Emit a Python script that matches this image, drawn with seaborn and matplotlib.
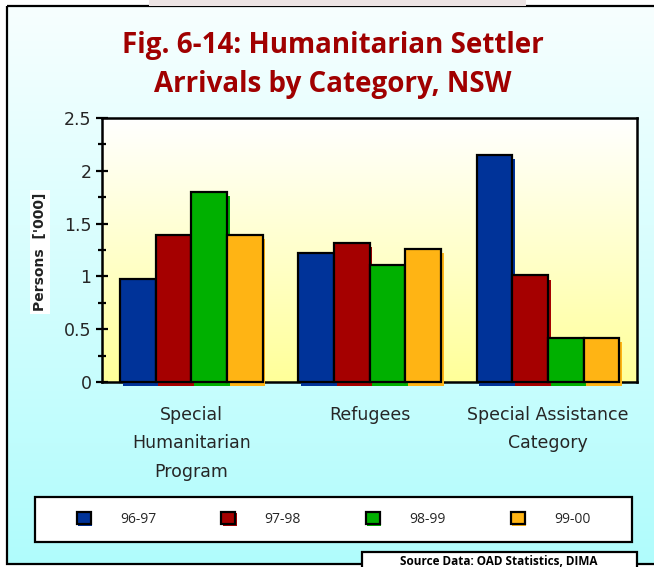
import numpy as np
import pandas as pd
import matplotlib
matplotlib.use("Agg")
import matplotlib.pyplot as plt
import matplotlib.patheffects as pe
from matplotlib.patches import Rectangle
from matplotlib.ticker import MultipleLocator
import seaborn as sns

# data
categories = ["Special\nHumanitarian\nProgram", "Refugees", "Special Assistance\nCategory"]
years = ["96-97", "97-98", "98-99", "99-00"]
v_9697 = [0.98, 1.22, 2.15]
v_9798 = [1.39, 1.32, 1.01]
v_9899 = [1.80, 1.11, 0.42]
v_9900 = [1.39, 1.26, 0.42]
colors = ["#003399", "#a50000", "#00b000", "#ffb414"]

df = pd.DataFrame({
    "category": categories * 4,
    "year": np.repeat(years, 3),
    "value": v_9697 + v_9798 + v_9899 + v_9900,
})

sns.set_theme(style="white")
plt.rcParams["font.family"] = ["DejaVu Sans"]

W, H = 654, 567
fig = plt.figure(figsize=(W / 100, H / 100), dpi=100)

# background layer in pixel coordinates
bg = fig.add_axes([0, 0, 1, 1], zorder=-5)
bg.set_xlim(0, W)
bg.set_ylim(H, 0)
bg.axis("off")
grad = np.linspace(0, 1, 256).reshape(-1, 1)
top_c = np.array([0.97, 1.0, 1.0])
bot_c = np.array([0.69, 0.99, 0.99])
img = top_c + grad[..., None] * (bot_c - top_c)
bg.imshow(img, extent=[7, W + 5, 564, 6], aspect="auto", zorder=0)
bg.add_patch(Rectangle((7, 6), W, 558, fill=False, edgecolor="black", linewidth=1.6, zorder=2))
bg.add_patch(Rectangle((149, -2), 377, 8, facecolor="#ede4e4", edgecolor="none", zorder=3))
# legend box
bg.add_patch(Rectangle((35, 497), 597, 45, facecolor="white", edgecolor="black", linewidth=1.6, zorder=2))
# source box
bg.add_patch(Rectangle((362, 552), 275, 30, facecolor="white", edgecolor="black", linewidth=1.6, zorder=2))
bg.text(499, 555, "Source Data: OAD Statistics, DIMA", ha="center", va="top",
        fontsize=8.5, fontweight="bold", color="black", zorder=4,
        family=["Open Sans", "DejaVu Sans"])

# title
fig.text(333 / W, 1 - 45 / H, "Fig. 6-14: Humanitarian Settler", ha="center", va="center",
         fontsize=20, fontweight="bold", color="#a00000", family=["Open Sans", "DejaVu Sans"])
fig.text(333 / W, 1 - 85 / H, "Arrivals by Category, NSW", ha="center", va="center",
         fontsize=20, fontweight="bold", color="#a00000", family=["Open Sans", "DejaVu Sans"])

# main plot
ax = fig.add_axes([102 / W, 1 - 382 / H, 535 / W, 264 / H])
ax.patch.set_alpha(0)
ygrad = np.linspace(0, 1, 256).reshape(-1, 1)
c_top = np.array([1.0, 1.0, 1.0])
c_bot = np.array([1.0, 1.0, 0.60])
pimg = c_top + ygrad[..., None] * (c_bot - c_top)
ax.imshow(pimg, extent=[-0.5, 2.5, 0, 2.5], aspect="auto", zorder=0)

sns.barplot(data=df, x="category", y="value", hue="year", palette=colors,
            saturation=1, width=0.8, edgecolor="black", linewidth=1.6,
            errorbar=None, ax=ax, zorder=3)

for bar in ax.patches:
    if isinstance(bar, Rectangle) and bar.get_height() > 0:
        fc = bar.get_facecolor()
        bar.set_clip_on(False)
        bar.set_path_effects([
            pe.SimplePatchShadow(offset=(2.0, -3.0), shadow_rgbFace=fc, alpha=1.0),
            pe.Normal(),
        ])

ax.set_xlim(-0.5, 2.5)
ax.set_ylim(0, 2.5)
ax.yaxis.set_major_locator(MultipleLocator(0.5))
ax.yaxis.set_minor_locator(MultipleLocator(0.25))
ax.set_yticks([0, 0.5, 1, 1.5, 2, 2.5])
ax.set_yticklabels(["0", "0.5", "1", "1.5", "2", "2.5"])
ax.tick_params(axis="y", which="major", direction="inout", length=9, width=1.6,
               color="black", labelsize=12.5, pad=3, left=True)
ax.tick_params(axis="y", which="minor", direction="inout", length=6, width=1.6,
               color="black", left=True)
ax.tick_params(axis="x", length=0, labelsize=12.5, pad=17)
for lab in ax.get_xticklabels():
    lab.set_linespacing(1.75)
    lab.set_va("top")
ax.set_xlabel("")
ax.set_ylabel("")
for s in ax.spines.values():
    s.set_visible(True)
    s.set_color("black")
    s.set_linewidth(1.8)

# y label in a white box
fig.text(40 / W, 1 - 252 / H, "Persons  ['000]", rotation=90, ha="center", va="center",
         fontsize=10, fontweight="bold", color="#222222", family="DejaVu Sans",
         bbox=dict(facecolor="white", edgecolor="none", pad=2))

# legend
handles, labels = ax.get_legend_handles_labels()
ax.legend_.remove() if ax.legend_ else None
leg = ax.legend(handles, labels, loc="center", ncol=4,
                bbox_to_anchor=(333.5 / W, 1 - 519.5 / H), bbox_transform=fig.transFigure,
                frameon=False, handlelength=1.0, handleheight=1.0, handletextpad=2.1,
                columnspacing=4.7, prop={"family": ["Liberation Sans Narrow", "Open Sans"], "size": 10})
for h in leg.legend_handles:
    fc = h.get_facecolor()
    h.set_edgecolor("black")
    h.set_linewidth(1.6)
    h.set_path_effects([
        pe.SimplePatchShadow(offset=(1.0, -1.0), shadow_rgbFace=fc, alpha=1.0),
        pe.Normal(),
    ])

fig.savefig("out.png", dpi=100)
